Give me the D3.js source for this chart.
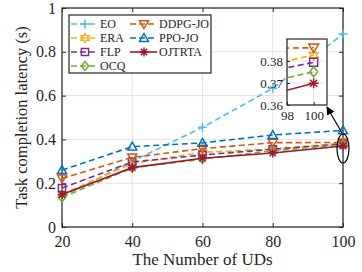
<!DOCTYPE html>
<html>
<head>
<meta charset="utf-8">
<script src="https://cdn.jsdelivr.net/npm/d3@7"></script>
<style>
  body { margin: 0; background: #fff; }
  text { font-family: "Liberation Serif", "Times New Roman", serif; fill: #262626; }
</style>
</head>
<body>
<div id="chart"></div>
<script>
// data
var uds = [20, 40, 60, 80, 100]
var xTicks = [20, 40, 60, 80, 100]
var yTicks = [0, 0.2, 0.4, 0.6, 0.8, 1]
var insetXTicks = [98, 100]
var insetYTicks = [0.36, 0.37, 0.38]

var names = ['EO', 'ERA', 'FLP', 'OCQ', 'DDPG-JO', 'PPO-JO', 'OJTRTA']
var eo = [0.14, 0.30, 0.455, 0.633, 0.881]
var era = [0.15, 0.29, 0.341, 0.356, 0.3827]
var flp = [0.178, 0.297, 0.329, 0.355, 0.3794]
var ocq = [0.135, 0.27, 0.31, 0.348, 0.3751]
var ddpg = [0.222, 0.318, 0.358, 0.385, 0.386]
var ppo = [0.26, 0.367, 0.384, 0.42, 0.441]
var ojtrta = [0.148, 0.271, 0.314, 0.338, 0.3699]

var series = [
  {name: names[0], v: eo, color: '#4DBEEE', dash: true, mk: 'plus'},
  {name: names[1], v: era, color: '#EDB120', dash: true, mk: 'hex'},
  {name: names[2], v: flp, color: '#7E2F8E', dash: true, mk: 'square'},
  {name: names[3], v: ocq, color: '#77AC30', dash: true, mk: 'diamond'},
  {name: names[4], v: ddpg, color: '#D95319', dash: true, mk: 'tridown'},
  {name: names[5], v: ppo, color: '#0072BD', dash: true, mk: 'triup'},
  {name: names[6], v: ojtrta, color: '#A2142F', dash: false, mk: 'star'}
]

var W = 362, H = 272
var L = 62, R = 343, T = 8, B = 227

var svg = d3.select('#chart').append('svg').attr('width', W).attr('height', H)

var x = d3.scaleLinear().domain([20, 100]).range([L, R])
var y = d3.scaleLinear().domain([0, 1]).range([B, T])

// marker paths, centred on 0,0
function markerPath(type, s) {
  var p = d3.path(), h = s / 2
  if (type == 'plus') {
    p.moveTo(-h, 0); p.lineTo(h, 0); p.moveTo(0, -h); p.lineTo(0, h)
  } else if (type == 'square') {
    p.rect(-h * 0.8, -h * 0.8, s * 0.8, s * 0.8)
  } else if (type == 'diamond') {
    p.moveTo(0, -h); p.lineTo(h * 0.8, 0); p.lineTo(0, h); p.lineTo(-h * 0.8, 0); p.closePath()
  } else if (type == 'triup') {
    p.moveTo(0, -h); p.lineTo(h, h * 0.75); p.lineTo(-h, h * 0.75); p.closePath()
  } else if (type == 'tridown') {
    p.moveTo(0, h); p.lineTo(h, -h * 0.75); p.lineTo(-h, -h * 0.75); p.closePath()
  } else if (type == 'star') {
    for (var i = 0; i < 4; i++) {
      var a = i * Math.PI / 4
      p.moveTo(-h * Math.cos(a), -h * Math.sin(a)); p.lineTo(h * Math.cos(a), h * Math.sin(a))
    }
  } else if (type == 'hex') {
    for (var k = 0; k < 12; k++) {
      var r = k % 2 == 0 ? h : h * 0.55
      var ang = -Math.PI / 2 + k * Math.PI / 6
      if (k == 0) p.moveTo(r * Math.cos(ang), r * Math.sin(ang))
      else p.lineTo(r * Math.cos(ang), r * Math.sin(ang))
    }
    p.closePath()
  }
  return p.toString()
}

var gridColor = '#e3e3e3'

// grid
svg.append('g').selectAll('line.gx').data(xTicks).enter().append('line')
  .attr('x1', function(d) { return x(d) }).attr('x2', function(d) { return x(d) })
  .attr('y1', T).attr('y2', B).attr('stroke', gridColor).attr('stroke-width', 1)
svg.append('g').selectAll('line.gy').data(yTicks).enter().append('line')
  .attr('y1', function(d) { return y(d) }).attr('y2', function(d) { return y(d) })
  .attr('x1', L).attr('x2', R).attr('stroke', gridColor).attr('stroke-width', 1)

// axes (inward ticks on all sides)
svg.append('g').attr('transform', 'translate(0,' + B + ')')
  .call(d3.axisBottom(x).tickValues(xTicks).tickSize(-4).tickPadding(9).tickFormat(d3.format('d')))
  .call(function(g) { g.select('.domain').remove() })
svg.append('g').attr('transform', 'translate(0,' + T + ')')
  .call(d3.axisTop(x).tickValues(xTicks).tickSize(-4).tickFormat(''))
  .call(function(g) { g.select('.domain').remove() })
svg.append('g').attr('transform', 'translate(' + L + ',0)')
  .call(d3.axisLeft(y).tickValues(yTicks).tickSize(-4).tickPadding(6).tickFormat(function(d) { return d == 0 || d == 1 ? d : d.toFixed(1) }))
  .call(function(g) { g.select('.domain').remove() })
svg.append('g').attr('transform', 'translate(' + R + ',0)')
  .call(d3.axisRight(y).tickValues(yTicks).tickSize(-4).tickFormat(''))
  .call(function(g) { g.select('.domain').remove() })
svg.selectAll('.tick line').attr('stroke', '#262626')
svg.selectAll('.tick text').style('font-size', '16px').style('font-family', '"Liberation Serif", serif').attr('fill', '#262626')

svg.append('rect').attr('x', L).attr('y', T).attr('width', R - L).attr('height', B - T)
  .attr('fill', 'none').attr('stroke', '#262626').attr('stroke-width', 1.2)

// series
var line = d3.line().x(function(d, i) { return x(uds[i]) }).y(function(d) { return y(d) })
series.forEach(function(s) {
  svg.append('path').attr('d', line(s.v)).attr('fill', 'none')
    .attr('stroke', s.color).attr('stroke-width', 1.6)
    .attr('stroke-dasharray', s.dash ? '6,3.5' : null)
  svg.append('g').selectAll('path').data(s.v).enter().append('path')
    .attr('transform', function(d, i) { return 'translate(' + x(uds[i]) + ',' + y(d) + ')' })
    .attr('d', markerPath(s.mk, 9)).attr('fill', 'none')
    .attr('stroke', s.color).attr('stroke-width', 1.5)
})

// axis titles
svg.append('text').attr('x', (L + R) / 2).attr('y', 265).attr('text-anchor', 'middle')
  .style('font-size', '17px').text('The Number of UDs')
svg.append('text').attr('transform', 'translate(27,' + (T + B) / 2 + ') rotate(-90)')
  .attr('text-anchor', 'middle').style('font-size', '16.5px').text('Task completion latency (s)')

// legend
var lg = svg.append('g')
lg.append('rect').attr('x', 69).attr('y', 15).attr('width', 142).attr('height', 58)
  .attr('fill', '#fff').attr('stroke', '#262626').attr('stroke-width', 1.2)
series.forEach(function(s, i) {
  var col = i < 4 ? 0 : 1, row = i < 4 ? i : i - 4
  var x0 = col == 0 ? 71 : 130, yy = 24 + row * 14
  var item = lg.append('g')
  item.append('line').attr('x1', x0).attr('x2', x0 + 27).attr('y1', yy).attr('y2', yy)
    .attr('stroke', s.color).attr('stroke-width', 1.6).attr('stroke-dasharray', s.dash ? '6,3' : null)
  item.append('path').attr('transform', 'translate(' + (x0 + 14) + ',' + yy + ')')
    .attr('d', markerPath(s.mk, 9)).attr('fill', 'none').attr('stroke', s.color).attr('stroke-width', 1.5)
  item.append('text').attr('x', x0 + 29).attr('y', yy + 4).style('font-size', '12px').text(s.name)
})

// ellipse + arrow pointing to the inset
svg.append('ellipse').attr('cx', x(100)).attr('cy', 148.5).attr('rx', 6).attr('ry', 14.5)
  .attr('fill', 'none').attr('stroke', '#000').attr('stroke-width', 1.2)
var defs = svg.append('defs')
defs.append('marker').attr('id', 'ah').attr('viewBox', '0 0 10 10').attr('refX', 9).attr('refY', 5)
  .attr('markerWidth', 7).attr('markerHeight', 7).attr('orient', 'auto')
  .append('path').attr('d', 'M0,0L10,5L0,10z').attr('fill', '#000')
svg.append('line').attr('x1', 342).attr('y1', 133).attr('x2', 327).attr('y2', 107)
  .attr('stroke', '#000').attr('stroke-width', 1.2).attr('marker-end', 'url(#ah)')

// inset
var iL = 287, iR = 327, iT = 39, iB = 105
var ix = d3.scaleLinear().domain([98, 101]).range([iL, iR])
var iy = d3.scaleLinear().domain([0.36, 0.39]).range([iB, iT])
var inset = svg.append('g')
inset.append('rect').attr('x', iL).attr('y', iT).attr('width', iR - iL).attr('height', iB - iT).attr('fill', '#fff')
defs.append('clipPath').attr('id', 'iclip').append('rect')
  .attr('x', iL).attr('y', iT).attr('width', iR - iL).attr('height', iB - iT)
inset.append('g').selectAll('line').data(insetXTicks).enter().append('line')
  .attr('x1', function(d) { return ix(d) }).attr('x2', function(d) { return ix(d) })
  .attr('y1', iT).attr('y2', iB).attr('stroke', gridColor)
inset.append('g').selectAll('line').data(insetYTicks).enter().append('line')
  .attr('y1', function(d) { return iy(d) }).attr('y2', function(d) { return iy(d) })
  .attr('x1', iL).attr('x2', iR).attr('stroke', gridColor)
var iline = d3.line().x(function(d, i) { return ix(uds[i]) }).y(function(d) { return iy(d) })
series.forEach(function(s) {
  if (s.name == 'EO' || s.name == 'PPO-JO') return
  inset.append('path').attr('d', iline(s.v)).attr('fill', 'none').attr('clip-path', 'url(#iclip)')
    .attr('stroke', s.color).attr('stroke-width', 1.6).attr('stroke-dasharray', s.dash ? '6,3.5' : null)
  inset.append('path').attr('transform', 'translate(' + ix(100) + ',' + iy(s.v[4]) + ')')
    .attr('d', markerPath(s.mk, 10)).attr('fill', 'none').attr('stroke', s.color).attr('stroke-width', 1.5)
})
inset.append('g').attr('transform', 'translate(0,' + iB + ')')
  .call(d3.axisBottom(ix).tickValues(insetXTicks).tickSize(-3).tickPadding(6).tickFormat(d3.format('d')))
  .call(function(g) { g.select('.domain').remove() })
inset.append('g').attr('transform', 'translate(' + iL + ',0)')
  .call(d3.axisLeft(iy).tickValues(insetYTicks).tickSize(-3).tickPadding(4).tickFormat(d3.format('.2f')))
  .call(function(g) { g.select('.domain').remove() })
inset.selectAll('.tick line').attr('stroke', '#262626')
inset.selectAll('.tick text').style('font-size', '13px').style('font-family', '"Liberation Serif", serif').attr('fill', '#262626')
inset.append('rect').attr('x', iL).attr('y', iT).attr('width', iR - iL).attr('height', iB - iT)
  .attr('fill', 'none').attr('stroke', '#262626').attr('stroke-width', 1.2)
</script>
</body>
</html>
